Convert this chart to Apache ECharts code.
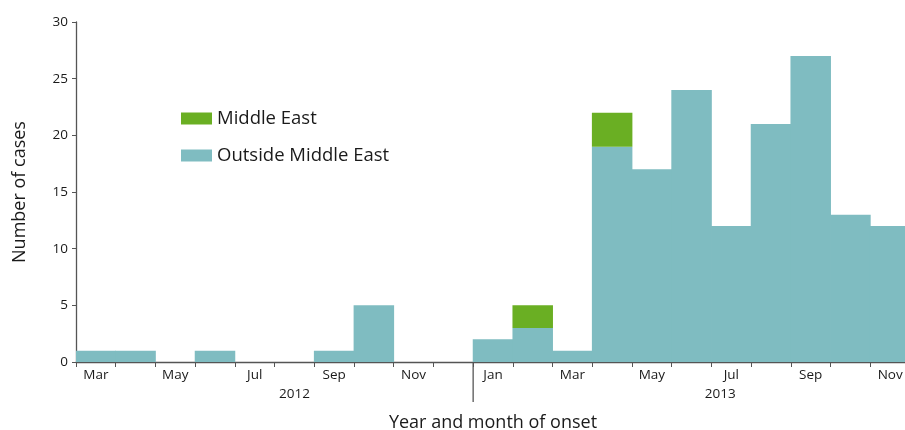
<!DOCTYPE html>
<html><head><meta charset="utf-8">
<script src="https://cdn.jsdelivr.net/npm/echarts@6/dist/echarts.min.js"></script>
<style>html,body{margin:0;padding:0;background:#fff;overflow:hidden}#c{width:905px;height:430px}</style>
</head><body><div id="c"></div>
<script>
const months = ["Mar","Apr","May","Jun","Jul","Aug","Sep","Oct","Nov","Dec",
                "Jan","Feb","Mar","Apr","May","Jun","Jul","Aug","Sep","Oct","Nov"];
const outsideME = [1,1,0,1,0,0,1,5,0,0, 2,3,1,19,17,24,12,21,27,13,12];
const middleEast = [0,0,0,0,0,0,0,0,0,0, 0,2,0,3,0,0,0,0,0,0,0];
const yearLabels = ["2012","2013"];
const yTicks = [0,5,10,15,20,25,30];

const FONT = "'Open Sans', 'Noto Sans', sans-serif";
const noZero = arr => arr.map(v => v === 0 ? '-' : v);
const chart = echarts.init(document.getElementById('c'), null, {renderer:'canvas'});
chart.setOption({
  animation:false,
  backgroundColor:'#fff',
  textStyle:{fontFamily:FONT},
  grid:{left:76, top:22, bottom:68, right:-5, containLabel:false, outerBoundsMode:'none'},
  legend:{
    orient:'vertical', left:176, top:104, itemWidth:31, itemHeight:12, itemGap:18,
    icon:'rect',
    textStyle:{fontFamily:FONT, fontSize:18.5, color:'#1a1a1a'},
    data:['Middle East','Outside Middle East']
  },
  xAxis:{
    type:'category', data:months,
    axisLine:{lineStyle:{color:'#555', width:1.3}},
    axisTick:{show:true, interval:0, alignWithLabel:false, length:5, lineStyle:{color:'#555'}},
    axisLabel:{interval:1, fontSize:13.5, color:'#1a1a1a', margin:6, fontFamily:FONT},
    name:'Year and month of onset', nameLocation:'middle', nameGap:52,
    nameTextStyle:{fontSize:18, color:'#1a1a1a', fontFamily:FONT}
  },
  yAxis:{
    type:'value', min:yTicks[0], max:yTicks[yTicks.length-1], interval:5,
    axisLine:{show:true, lineStyle:{color:'#555', width:1.3}},
    axisTick:{show:true, length:4, lineStyle:{color:'#555'}},
    splitLine:{show:false},
    axisLabel:{fontSize:13.5, color:'#1a1a1a', margin:8, fontFamily:FONT},
    name:'Number of cases', nameLocation:'middle', nameGap:47,
    nameTextStyle:{fontSize:18, color:'#1a1a1a', fontFamily:FONT}
  },
  series:[
    {name:'Outside Middle East', type:'bar', stack:'a', data:noZero(outsideME), barWidth:'102%', z:2,
     itemStyle:{color:'#7fbcc1'}},
    {name:'Middle East', type:'bar', stack:'a', data:noZero(middleEast), barWidth:'102%', z:2,
     itemStyle:{color:'#6aaf23'}}
  ]
});
const p2012 = chart.convertToPixel({xAxisIndex:0}, 5);
const pJan = chart.convertToPixel({xAxisIndex:0}, 10);
const pJul13 = chart.convertToPixel({xAxisIndex:0}, 16);
const step = chart.convertToPixel({xAxisIndex:0}, 1) - chart.convertToPixel({xAxisIndex:0}, 0);
const y0 = chart.convertToPixel({yAxisIndex:0}, 0);
chart.setOption({
  graphic:[
    {type:'line', z:10, shape:{x1:pJan-step/2, y1:y0, x2:pJan-step/2, y2:y0+40}, style:{stroke:'#555', lineWidth:1.3}},
    {type:'text', x:p2012, y:y0+25, style:{text:yearLabels[0], font:'13.5px '+FONT, fill:'#1a1a1a', textAlign:'center', textVerticalAlign:'top'}},
    {type:'text', x:pJul13-step*0.28, y:y0+25, style:{text:yearLabels[1], font:'13.5px '+FONT, fill:'#1a1a1a', textAlign:'center', textVerticalAlign:'top'}}
  ]
});
</script></body></html>
